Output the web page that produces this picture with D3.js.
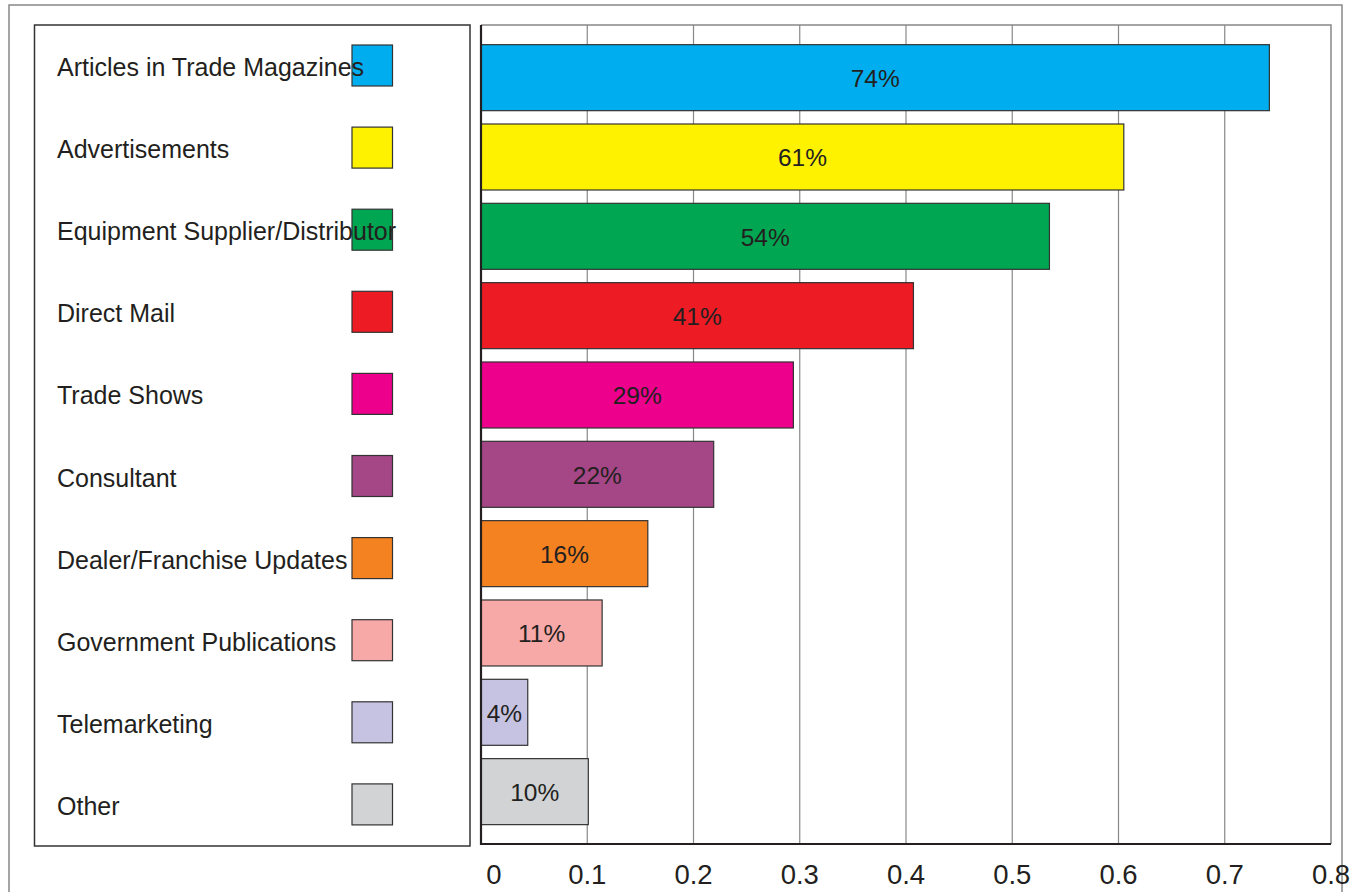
<!DOCTYPE html>
<html>
<head>
<meta charset="utf-8">
<script src="https://cdnjs.cloudflare.com/ajax/libs/d3/7.8.5/d3.min.js"></script>
<style>
  body { margin: 0; background: #fff; }
  text { font-family: "Liberation Sans", Arial, Helvetica, sans-serif; fill: #231f20; }
</style>
</head>
<body>
<svg id="chart" width="1366" height="892"></svg>
<script>
// chart data
var categories = ["Articles in Trade Magazines", "Advertisements", "Equipment Supplier/Distributor",
    "Direct Mail", "Trade Shows", "Consultant", "Dealer/Franchise Updates",
    "Government Publications", "Telemarketing", "Other"];
var values = [0.742, 0.605, 0.535, 0.407, 0.294, 0.219, 0.157, 0.114, 0.044, 0.101];
var valueLabels = ["74%", "61%", "54%", "41%", "29%", "22%", "16%", "11%", "4%", "10%"];
var colors = ["#00aeef", "#fff200", "#00a651", "#ed1c24", "#ec008c", "#a54686",
    "#f58220", "#f7a9a8", "#c6c3e2", "#d1d3d4"];
var tickValues = [0, 0.1, 0.2, 0.3, 0.4, 0.5, 0.6, 0.7, 0.8];
var tickLabels = ["0", "0.1", "0.2", "0.3", "0.4", "0.5", "0.6", "0.7", "0.8"];

var svg = d3.select("#chart");

// plot area
var plotLeft = 481, plotRight = 1331, plotTop = 25, plotBottom = 844;

var xScale = d3.scaleLinear()
    .domain([0, 0.8])
    .range([plotLeft, plotRight]);

var yScale = d3.scaleBand()
    .domain(categories)
    .range([38, 831.3])
    .paddingInner(0.168)
    .paddingOuter(0.084);

// outer frame
svg.append("rect")
    .attr("x", 9).attr("y", 5)
    .attr("width", 1333).attr("height", 900)
    .style("fill", "none")
    .style("stroke", "#888")
    .style("stroke-width", 1.5);

// legend box
svg.append("rect")
    .attr("x", 34.5).attr("y", 25)
    .attr("width", 435.5).attr("height", 821)
    .style("fill", "none")
    .style("stroke", "#333")
    .style("stroke-width", 1.5);

// plot top / right border
svg.append("path")
    .attr("d", "M" + plotLeft + "," + plotTop + "H" + plotRight + "V" + plotBottom)
    .style("fill", "none")
    .style("stroke", "#888")
    .style("stroke-width", 1.5);

// gridlines
svg.append("g").selectAll("line")
    .data(tickValues.slice(1, -1))
    .enter().append("line")
    .attr("x1", function(d) { return xScale(d); })
    .attr("x2", function(d) { return xScale(d); })
    .attr("y1", plotTop)
    .attr("y2", plotBottom)
    .style("stroke", "#888")
    .style("stroke-width", 1.2);

// bars
svg.append("g").selectAll("rect")
    .data(values)
    .enter().append("rect")
    .attr("x", xScale(0))
    .attr("y", function(d, i) { return yScale(categories[i]); })
    .attr("width", function(d) { return xScale(d) - xScale(0); })
    .attr("height", yScale.bandwidth())
    .style("fill", function(d, i) { return colors[i]; })
    .style("stroke", "#333")
    .style("stroke-width", 1.2);

// bar labels
svg.append("g").selectAll("text")
    .data(values)
    .enter().append("text")
    .attr("x", function(d) { return (xScale(0) + xScale(d)) / 2; })
    .attr("y", function(d, i) { return yScale(categories[i]) + yScale.bandwidth() / 2; })
    .attr("dy", "0.38em")
    .attr("text-anchor", "middle")
    .style("font-size", "24.5px")
    .text(function(d, i) { return valueLabels[i]; });

// axis lines (left + bottom)
svg.append("path")
    .attr("d", "M" + plotLeft + "," + plotTop + "V" + plotBottom + "H" + plotRight)
    .style("fill", "none")
    .style("stroke", "#231f20")
    .style("stroke-width", 2.2);

// x tick labels
svg.append("g").selectAll("text")
    .data(tickValues)
    .enter().append("text")
    .attr("x", function(d, i) { return xScale(d) + (i === 0 ? 13 : 0); })
    .attr("y", 884)
    .attr("text-anchor", "middle")
    .style("font-size", "27.5px")
    .text(function(d, i) { return tickLabels[i]; });

// legend
var legendStep = 82.1;
var legend = svg.append("g").selectAll("g")
    .data(categories)
    .enter().append("g")
    .attr("transform", function(d, i) { return "translate(0," + (45 + i * legendStep) + ")"; });

legend.append("rect")
    .attr("x", 352)
    .attr("y", 0)
    .attr("width", 40.5)
    .attr("height", 41)
    .style("fill", function(d, i) { return colors[i]; })
    .style("stroke", "#333")
    .style("stroke-width", 1.2);

legend.append("text")
    .attr("x", 57)
    .attr("y", 22.3)
    .attr("dy", "0.35em")
    .style("font-size", "25px")
    .text(function(d) { return d; });
</script>
</body>
</html>
